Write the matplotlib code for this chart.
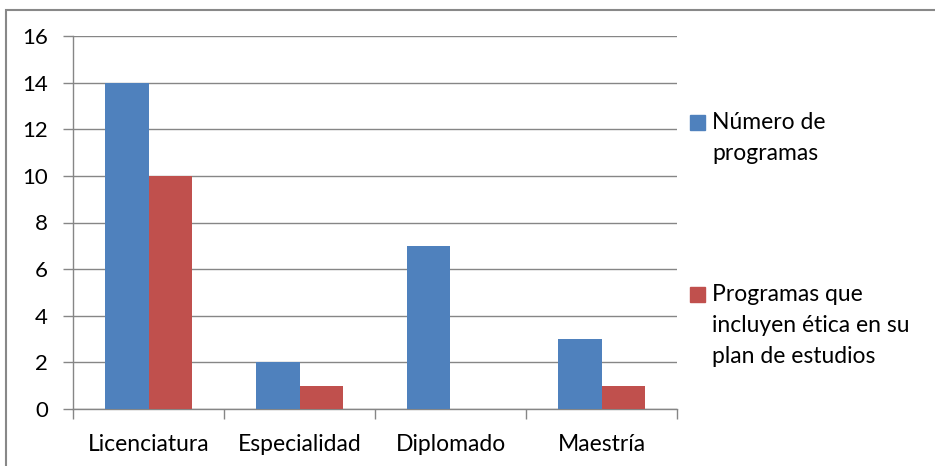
import matplotlib
matplotlib.use('Agg')
import matplotlib.pyplot as plt
import numpy as np
from matplotlib.patches import Rectangle

categories = ['Licenciatura', 'Especialidad', 'Diplomado', 'Maestría']
num_programas = [14, 2, 7, 3]
con_etica = [10, 1, 0, 1]
series_labels = ['Número de\nprogramas',
                 'Programas que\nincluyen ética en su\nplan de estudios']
yticks = [0, 2, 4, 6, 8, 10, 12, 14, 16]

BLUE = '#4F81BD'
RED = '#C0504D'
GRID = '#868686'

plt.rcParams['font.family'] = ['Lato', 'DejaVu Sans']

fig = plt.figure(figsize=(9.35, 4.66), dpi=100)
ax = fig.add_axes([73/935, 1 - 409/466, (677 - 73)/935, (409 - 36)/466])

x = np.arange(len(categories))
w = 0.285
ax.bar(x - w/2, num_programas, width=w, color=BLUE, zorder=3)
ax.bar(x + w/2, con_etica, width=w, color=RED, zorder=3)

ax.set_xlim(-0.5, len(categories) - 0.5)
ax.set_ylim(0, 16)
ax.set_yticks(yticks)
ax.set_yticklabels([str(v) for v in yticks])
ax.yaxis.grid(True, color=GRID, linewidth=1, zorder=0)
ax.set_axisbelow(True)

# category labels at centers, tick marks at boundaries
ax.set_xticks(x)
ax.set_xticklabels(categories)
ax.set_xticks(np.arange(-0.5, len(categories)), minor=True)
ax.tick_params(axis='x', which='major', length=0, pad=18, labelsize=16.5)
ax.tick_params(axis='x', which='minor', length=7, width=1, color=GRID, direction='out')
ax.tick_params(axis='y', length=7, width=1, color=GRID, pad=11, labelsize=16)

for s in ['top', 'right']:
    ax.spines[s].set_visible(False)
for s in ['left', 'bottom']:
    ax.spines[s].set_color(GRID)
    ax.spines[s].set_linewidth(1)

# legend drawn by hand (handle aligned with first line)
sq_top = [115, 287]
for lab, col, yy in zip(series_labels, [BLUE, RED], sq_top):
    fig.patches.append(Rectangle((690/935, 1 - (yy + 15)/466), 15/935, 15/466,
                                 transform=fig.transFigure, color=col))
    fig.text(712/935, 1 - (yy - 3)/466, lab, fontsize=16.5, va='top', ha='left',
             linespacing=1.6)

# outer chart frame
fig.patches.append(Rectangle((6/935, -0.1), 1.2, 1 - 10/466 + 0.1,
                             transform=fig.transFigure, fill=False,
                             edgecolor='#888888', linewidth=1.5))

fig.savefig('out.png', dpi=100)
